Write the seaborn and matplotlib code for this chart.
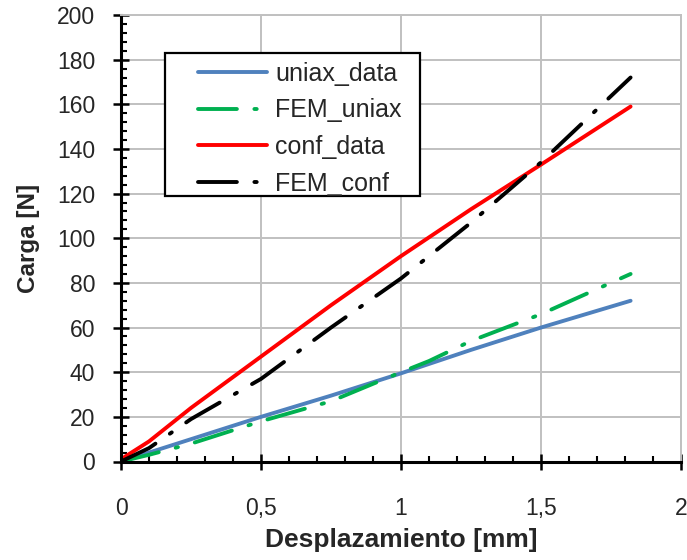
import matplotlib
matplotlib.use("Agg")
import matplotlib.pyplot as plt
import seaborn as sns
import numpy as np
import pandas as pd
from matplotlib.ticker import MultipleLocator, FuncFormatter
from matplotlib.patches import Rectangle

# ---- data ----
x_uniax_data = [0, 0.1, 0.25, 0.5, 0.75, 1.0, 1.25, 1.5, 1.82]
y_uniax_data = [0, 4, 10, 20, 29.5, 39.5, 50, 60, 72]

x_fem_uniax = [0, 0.1, 0.25, 0.5, 0.75, 1.0, 1.1, 1.25, 1.5, 1.82]
y_fem_uniax = [0, 3, 8, 18, 27, 40, 45, 54, 66, 84]

x_conf_data = [0, 0.1, 0.25, 0.5, 0.75, 1.0, 1.25, 1.5, 1.82]
y_conf_data = [1, 9, 24, 47, 70, 92, 113, 133, 159]

x_fem_conf = [0, 0.1, 0.25, 0.5, 0.75, 1.0, 1.25, 1.5, 1.82]
y_fem_conf = [0, 6, 19, 37, 60, 82, 107, 134, 172]

series_names = ["uniax_data", "FEM_uniax", "conf_data", "FEM_conf"]
colors = ["#4F81BD", "#00B050", "#FF0000", "#000000"]

sns.set_style("white")
plt.rcParams["font.family"] = ["Liberation Sans", "DejaVu Sans"]

fig = plt.figure(figsize=(6.87, 5.6), dpi=100)
ax = fig.add_axes([121/687, 1-461.5/560, (681-121)/687, (461.5-15)/560])

dashdot = (0, (10, 4.5, 0.6, 4.5))
styles = ["-", dashdot, "-", dashdot]
xs = [x_uniax_data, x_fem_uniax, x_conf_data, x_fem_conf]
ys = [y_uniax_data, y_fem_uniax, y_conf_data, y_fem_conf]

for name, xv, yv, c, ls in zip(series_names, xs, ys, colors, styles):
    df = pd.DataFrame({"x": xv, "y": yv})
    sns.lineplot(data=df, x="x", y="y", ax=ax, color=c, linewidth=2.8,
                 linestyle=ls, label=name, sort=False, estimator=None,
                 solid_capstyle="round", dash_capstyle="round")

ax.set_xlim(0, 2)
ax.set_ylim(0, 200)
ax.xaxis.set_major_locator(MultipleLocator(0.5))
ax.xaxis.set_minor_locator(MultipleLocator(0.1))
ax.yaxis.set_major_locator(MultipleLocator(20))
ax.yaxis.set_minor_locator(MultipleLocator(4))

def fmt(v, pos):
    return ("%g" % v).replace(".", ",")
ax.xaxis.set_major_formatter(FuncFormatter(fmt))

ax.grid(True, which="major", color="#C0C0C0", linewidth=1.4)
ax.set_axisbelow(True)
for s in ["top", "right"]:
    ax.spines[s].set_color("#C0C0C0")
    ax.spines[s].set_linewidth(1.4)
for s in ["left", "bottom"]:
    ax.spines[s].set_color("black")
    ax.spines[s].set_linewidth(2.2)

ax.tick_params(axis="both", which="both", bottom=True, left=True, top=False, right=False)
ax.tick_params(axis="both", which="major", direction="inout", length=11, width=1.8,
               color="black", labelsize=16.5)
ax.tick_params(axis="both", which="minor", direction="in", length=4.5, width=1.5,
               color="black")
ax.tick_params(axis="x", which="major", pad=20)
ax.tick_params(axis="y", which="major", pad=13)

ax.set_xlabel("Desplazamiento [mm]", fontsize=19, fontweight="bold", labelpad=6)
ax.set_ylabel("Carga [N]", fontsize=17.5, fontweight="bold", labelpad=12)

# legend frame (white box with black border) and frameless legend on top
frame = Rectangle((44/560, (461.5-196)/446.5), 255/560, 143/446.5,
                  transform=ax.transAxes, facecolor="white", edgecolor="black",
                  linewidth=1.6, zorder=4)
ax.add_patch(frame)
leg = ax.legend(loc="upper left", bbox_to_anchor=(77/560, (461.5-62)/446.5),
                fontsize=18, frameon=False, handlelength=2.76,
                labelspacing=0.5, borderpad=0, handletextpad=0.32,
                borderaxespad=0)
leg.set_zorder(5)

fig.savefig("out.png", dpi=100)
